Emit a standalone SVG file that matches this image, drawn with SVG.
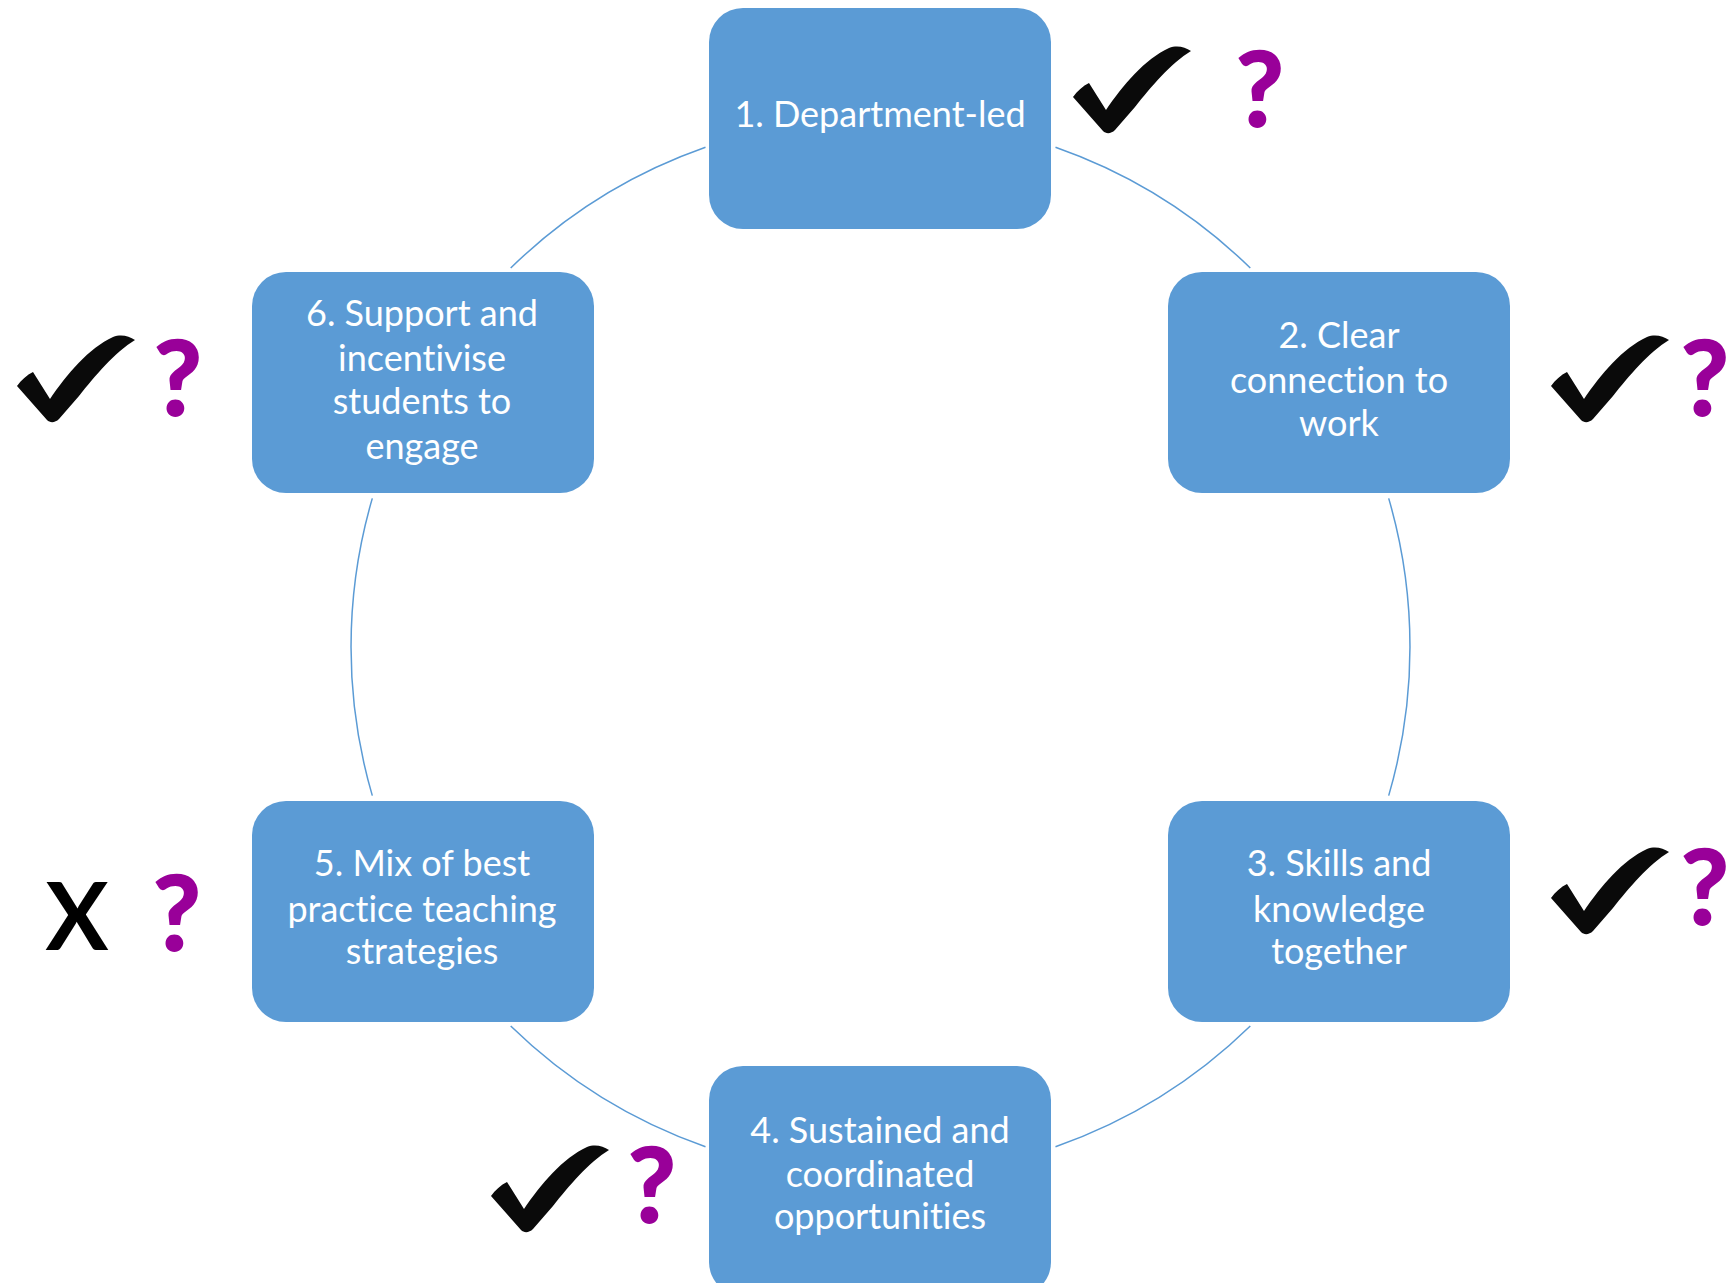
<svg xmlns="http://www.w3.org/2000/svg" width="1731" height="1283" viewBox="0 0 1731 1283">
<style>
.box{fill:#5b9bd5;}
.lbl{font-family:Lato,"Open Sans","Liberation Sans",sans-serif;font-size:36px;fill:#ffffff;text-anchor:middle;font-variant-ligatures:none;}
.q{font-family:Lato,"Liberation Sans",sans-serif;font-weight:bold;font-size:104px;fill:#990099;text-anchor:middle;stroke:#990099;stroke-width:2;}
.x{font-family:Lato,"Liberation Sans",sans-serif;font-weight:bold;font-size:94px;fill:#000000;text-anchor:middle;}
.arc{fill:none;stroke:#5b9bd5;stroke-width:1.5;}
</style>
<defs>
<path id="tick" d="M0,52 C4,46 10,41 16,38 L33,65 C50,40 72,14 96,3 C104,0 112,2 118,6 C98,18 78,42 62,62 L42,85 C38,89 33,89 30,86 Z" fill="#0a0a0a"/>
</defs>
<rect width="1731" height="1283" fill="#ffffff"/>
<g id="connectors">
<path class="arc" d="M1055.5,147.3 A529.5,529.5 0 0 1 1250.3,268"/>
<path class="arc" d="M1388.7,498.4 A529.5,529.5 0 0 1 1388.7,795.6"/>
<path class="arc" d="M1250.3,1026 A529.5,529.5 0 0 1 1055.5,1146.7"/>
<path class="arc" d="M705.5,1146.7 A529.5,529.5 0 0 1 510.7,1026"/>
<path class="arc" d="M372.3,795.6 A529.5,529.5 0 0 1 372.3,498.4"/>
<path class="arc" d="M510.7,268 A529.5,529.5 0 0 1 705.5,147.3"/>
</g>
<g id="node1">
<rect class="box" x="709" y="8" width="342" height="221" rx="34"/>
<text class="lbl" x="880" y="127">1. Department-led</text>
</g>
<g id="node2">
<rect class="box" x="1168" y="272" width="342" height="221" rx="34"/>
<text class="lbl" x="1339" y="348">2. Clear</text>
<text class="lbl" x="1339" y="393">connection to</text>
<text class="lbl" x="1339" y="436">work</text>
</g>
<g id="node3">
<rect class="box" x="1168" y="801" width="342" height="221" rx="34"/>
<text class="lbl" x="1339" y="876">3. Skills and</text>
<text class="lbl" x="1339" y="922">knowledge</text>
<text class="lbl" x="1339" y="964">together</text>
</g>
<g id="node4">
<rect class="box" x="709" y="1066" width="342" height="230" rx="34"/>
<text class="lbl" x="880" y="1143">4. Sustained and</text>
<text class="lbl" x="880" y="1187">coordinated</text>
<text class="lbl" x="880" y="1229">opportunities</text>
</g>
<g id="node5">
<rect class="box" x="252" y="801" width="342" height="221" rx="34"/>
<text class="lbl" x="422" y="876">5. Mix of best</text>
<text class="lbl" x="422" y="922">practice teaching</text>
<text class="lbl" x="422" y="964">strategies</text>
</g>
<g id="node6">
<rect class="box" x="252" y="272" width="342" height="221" rx="34"/>
<text class="lbl" x="422" y="326">6. Support and</text>
<text class="lbl" x="422" y="371">incentivise</text>
<text class="lbl" x="422" y="414">students to</text>
<text class="lbl" x="422" y="459">engage</text>
</g>
<g id="marks">
<use href="#tick" x="1073" y="45"/>
<use href="#tick" x="1551" y="334"/>
<use href="#tick" x="1551" y="846"/>
<use href="#tick" x="491" y="1144"/>
<use href="#tick" x="17" y="334"/>
<text class="q" x="1260" y="126">?</text>
<text class="q" x="1705" y="415">?</text>
<text class="q" x="1705" y="924">?</text>
<text class="q" x="652" y="1222">?</text>
<text class="q" x="177" y="950">?</text>
<text class="q" x="178" y="415">?</text>
<text class="x" x="77" y="950">X</text>
</g>
</svg>
